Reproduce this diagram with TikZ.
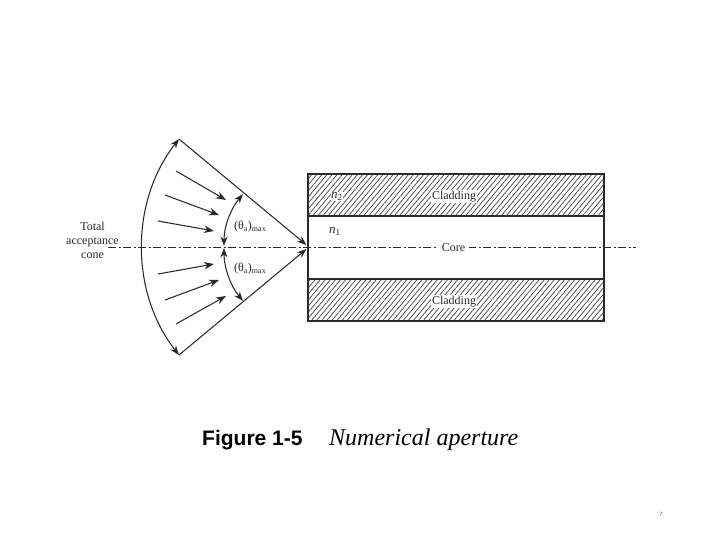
\documentclass[tikz,border=0pt]{standalone}
\usepackage{fontspec}
\setmainfont{Liberation Serif}
\newfontfamily\capsans{Liberation Sans}
\usetikzlibrary{arrows.meta,patterns.meta}
\definecolor{ink}{HTML}{2A2A2A}
\tikzset{
  line/.style={draw=ink,line width=1.05pt},
  ray/.style={line,-{Stealth[length=10pt,width=7.5pt]}},
  both/.style={line,{Stealth[length=9.5pt,width=7pt]}-{Stealth[length=9.5pt,width=7pt]}},
  lab/.style={font=\fontsize{12}{14}\selectfont,text=ink,inner sep=1pt},
  clad/.style={line,minimum width=296pt,minimum height=42pt,inner sep=0pt,outer sep=0pt,
    pattern={Lines[angle=50,distance=3.9pt,line width=0.75pt]},pattern color=ink!85},
  corebox/.style={line,minimum width=296pt,minimum height=63pt,inner sep=0pt,outer sep=0pt},
  axisline/.style={draw=ink,line width=0.95pt,dash pattern=on 8pt off 2.5pt on 2pt off 2.5pt},
}
\begin{document}
\begin{tikzpicture}[x=1pt,y=-1pt]
\useasboundingbox[fill=white] (0,0) rectangle (720,540);
% fibre
\node[corebox] (core) at (456,247.5) {};
\node[clad] (top) at (456,195) {};
\node[clad] (bot) at (456,300) {};
% axis
\coordinate (axL) at (108,247);
\coordinate (axR) at (636,247);
\coordinate (tip) at (307,247);
\draw[axisline] (axL) -- (axR);
% cone
\coordinate (oT) at (179,139);
\coordinate (oB) at (179,355);
\coordinate (tipU) at (306.5,245);
\coordinate (tipD) at (306.5,249);
\draw[line,-{Stealth[length=9.5pt,width=7pt]}] (oT) -- (tipU);
\draw[line,-{Stealth[length=9.5pt,width=7pt]}] (oB) -- (tipD);
\draw[both] (oT) .. controls (130,201.3) and (130,292.7) .. (oB);
% inner angle arcs
\coordinate (iT) at (243,194);
\coordinate (iB) at (243,301);
\coordinate (iU) at (224,246);
\coordinate (iD) at (224,248);
\draw[both] (iU) .. controls (224,226) and (230.7,208.9) .. (iT);
\draw[both] (iD) .. controls (224,268) and (230.7,286) .. (iB);
% rays
\foreach \n/\ax/\ay/\bx/\by in {a/176/171/226/200,b/165/195/219/215,c/158/221/214/231,d/158/274/214/264,e/165/300/219/280,f/176/324/226/296}{
  \coordinate (\n1) at (\ax,\ay);
  \coordinate (\n2) at (\bx,\by);
  \draw[ray] (\n1) -- (\n2);
}
% labels
\node[lab,fill=white] (cl1) at (454,196.3) {Cladding};
\node[lab,fill=white] (cl2) at (454,301.3) {Cladding};
\node[lab,fill=white,inner sep=4pt,inner ysep=1pt] (corelab) at (453.5,247.6) {Core};
\node[lab,fill=white,inner sep=0.5pt,font=\fontsize{13}{15}\selectfont] (n2) at (337,196.5) {\textit{n}\textsubscript{2}};
\node[lab,font=\fontsize{13}{15}\selectfont] (n1) at (335,231.5) {\textit{n}\textsubscript{1}};
\node[lab,align=center] (tot) at (92.5,240.3) {Total\\acceptance\\cone};
\node[lab,anchor=west] (th1) at (233,226.5) {(θ\textsubscript{a})\textsubscript{max}};
\node[lab,anchor=west] (th2) at (233,268.5) {(θ\textsubscript{a})\textsubscript{max}};
% caption
\node[anchor=base west,inner sep=0pt,font=\capsans\bfseries\fontsize{21}{24}\selectfont,text=black] (figno) at (202,445) {Figure 1-5};
\node[anchor=base west,inner sep=0pt,font=\itshape\fontsize{24}{26}\selectfont,text=black] (figt) at (329,445) {Numerical aperture};
\node[inner sep=0pt,font=\capsans\fontsize{6}{7}\selectfont,text=black!60] (pg) at (661,514) {7};
\end{tikzpicture}
\end{document}
